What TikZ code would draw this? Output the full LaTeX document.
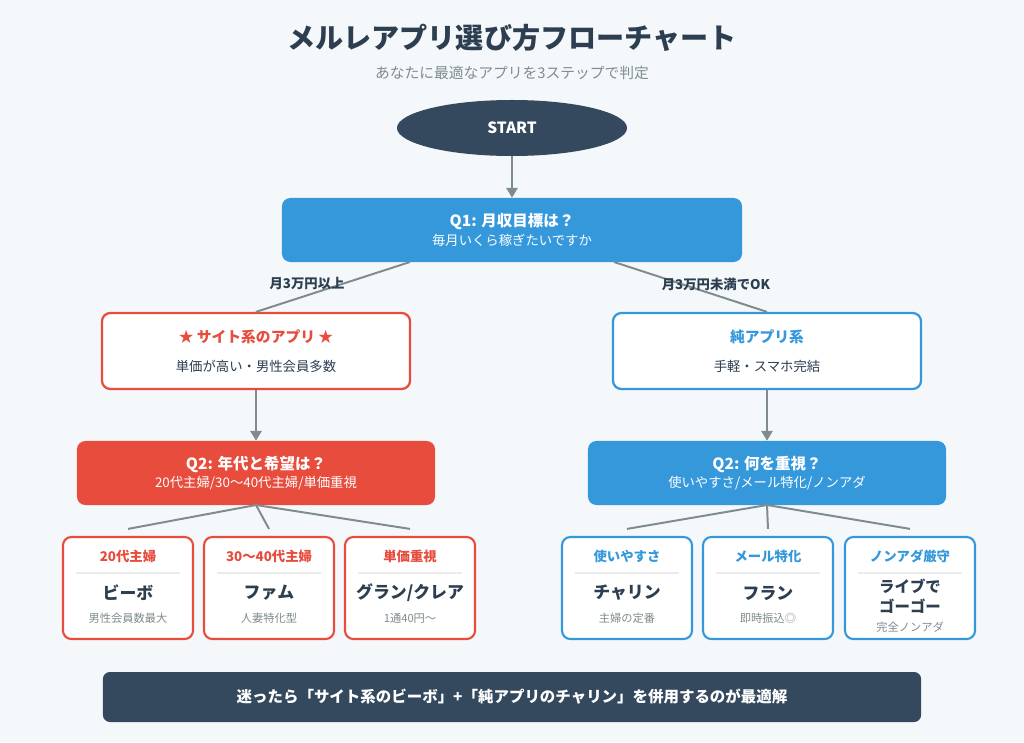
\documentclass[tikz,border=0pt]{standalone}
\usepackage{fontspec}
\setmainfont{Noto Sans CJK JP}
\usetikzlibrary{arrows.meta, positioning, shapes.geometric}
\definecolor{navy}{HTML}{34495E}
\definecolor{qblue}{HTML}{3498DB}
\definecolor{qred}{HTML}{E74C3C}
\definecolor{ink}{HTML}{2C3E50}
\definecolor{grey}{HTML}{7F8C8D}
\definecolor{bg}{HTML}{F5F8FA}
\tikzset{
  qbox/.style={rounded corners=6pt, minimum width=#1, minimum height=1.6cm, text=white, align=center},
  rbox/.style={draw, line width=1.6pt, fill=white, rounded corners=6pt, minimum width=7.7cm, minimum height=1.9cm},
  kbox/.style={draw, line width=1.5pt, fill=white, rounded corners=6pt, minimum width=3.25cm, minimum height=2.55cm},
  link/.style={draw=grey, line width=1.4pt},
  arr/.style={link, -{Triangle[length=7pt, width=8pt]}},
  cond/.style={text=ink, font=\bfseries\fontsize{9.5}{11}\selectfont},
}
\begin{document}
\begin{tikzpicture}[x=0.025cm, y=-0.025cm]
	% background
	\fill[bg] (0,0) rectangle (1024,742);
	\useasboundingbox (0,0) rectangle (1024,742);

	% title
	\node[text=ink, font=\fontsize{20}{24}\selectfont\bfseries] (title) at (512,38) {メルレアプリ選び方フローチャート};
	\node[text=grey, font=\fontsize{10.5}{12}\selectfont] (subtitle) at (512,73) {あなたに最適なアプリを3ステップで判定};

	% start
	\node[ellipse, fill=navy, minimum width=5.75cm, minimum height=1.4cm, text=white, font=\bfseries\fontsize{11}{13}\selectfont] (start) at (512,128) {START};

	% Q1
	\node[qbox=11.5cm, fill=qblue] (q1) at (512,230) {{\bfseries\fontsize{11}{13}\selectfont Q1: 月収目標は？}\\[1pt]{\fontsize{9.5}{11}\selectfont 毎月いくら稼ぎたいですか}};
	\draw[arr] (start) -- (q1);

	% level 2
	\node[rbox, draw=qred] (site) at (256,351) {};
	\node[text=qred, font=\bfseries\fontsize{10.5}{12}\selectfont] (sitet) at (256,337) {★ サイト系のアプリ ★};
	\node[text=ink, font=\fontsize{9.5}{11}\selectfont] (sites) at (256,366) {単価が高い・男性会員多数};
	\node[rbox, draw=qblue] (app) at (767,351) {};
	\node[text=qblue, font=\bfseries\fontsize{10.5}{12}\selectfont] (appt) at (767,337) {純アプリ系};
	\node[text=ink, font=\fontsize{9.5}{11}\selectfont] (apps) at (767,366) {手軽・スマホ完結};

	\coordinate (q1l) at (410,262);
	\coordinate (q1r) at (614,262);
	\draw[link] (q1l) -- (site.north);
	\draw[link] (q1r) -- (app.north);
	\node[cond] (hi) at (307,284) {月3万円以上};
	\node[cond] (lo) at (716,284) {月3万円未満でOK};

	% Q2
	\node[qbox=8.95cm, fill=qred] (q2l) at (256,473) {{\bfseries\fontsize{11}{13}\selectfont Q2: 年代と希望は？}\\[1pt]{\fontsize{9.5}{11}\selectfont 20代主婦/30〜40代主婦/単価重視}};
	\node[qbox=8.95cm, fill=qblue] (q2r) at (767,473) {{\bfseries\fontsize{11}{13}\selectfont Q2: 何を重視？}\\[1pt]{\fontsize{9.5}{11}\selectfont 使いやすさ/メール特化/ノンアダ}};
	\draw[arr] (site) -- (q2l);
	\draw[arr] (app) -- (q2r);

	% leaves
	\foreach \n/\x/\c/\t/\m/\s in {
		la/128/qred/20代主婦/ビーボ/男性会員数最大,
		lb/269/qred/30〜40代主婦/ファム/人妻特化型,
		lc/410/qred/単価重視/グラン\slash クレア/1通40円〜,
		ra/627/qblue/使いやすさ/チャリン/主婦の定番,
		rb/768/qblue/メール特化/フラン/即時振込◎}{
		\node[kbox, draw=\c] (\n) at (\x,588) {};
		\node[text=\c, font=\bfseries\fontsize{9.5}{11}\selectfont] (\n t) at (\x,556) {\t};
		\draw[black!8, line width=0.8pt] (\x-52,573) -- (\x+52,573);
		\node[text=ink, font=\bfseries\fontsize{12}{14}\selectfont] (\n m) at (\x,593) {\m};
		\node[text=grey, font=\fontsize{8}{10}\selectfont] (\n s) at (\x,618) {\s};
	}
	\node[kbox, draw=qblue] (rc) at (910,588) {};
	\node[text=qblue, font=\bfseries\fontsize{9.5}{11}\selectfont] (rct) at (910,556) {ノンアダ厳守};
	\draw[black!8, line width=0.8pt] (858,573) -- (962,573);
	\node[text=ink, font=\bfseries\fontsize{11}{14}\selectfont, align=center] (rcm) at (910,596) {ライブで\\ゴーゴー};
	\node[text=grey, font=\fontsize{8}{10}\selectfont] (rcs) at (910,627) {完全ノンアダ};

	\coordinate (q2lb) at (256,505);
	\coordinate (q2rb) at (767,505);
	\foreach \n in {la,lb,lc} \draw[link] (q2lb) -- ([yshift=5]\n.north);
	\foreach \n in {ra,rb,rc} \draw[link] (q2rb) -- ([yshift=5]\n.north);

	% conclusion
	\node[fill=navy, rounded corners=5pt, minimum width=20.45cm, minimum height=1.25cm, text=white, font=\bfseries\fontsize{11}{13}\selectfont] (tip) at (512,697) {迷ったら「サイト系のビーボ」+「純アプリのチャリン」を併用するのが最適解};
\end{tikzpicture}
\end{document}
